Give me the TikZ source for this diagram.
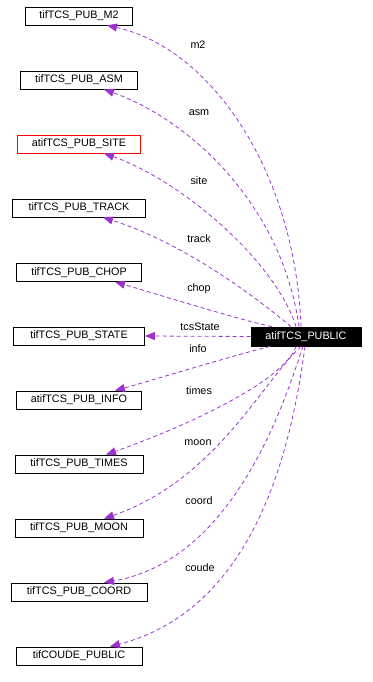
\documentclass[tikz,border=0pt]{standalone}
\usepackage{fontspec}
\setmainfont{Liberation Sans}
\usetikzlibrary{arrows.meta,calc}
\definecolor{orchid}{HTML}{9A32CD}

\begin{document}
\begin{tikzpicture}[x=1pt,y=-1pt,
        cls/.style={draw,line width=0.8pt,minimum height=18pt,inner sep=0pt,font=\fontsize{10.8}{12}\selectfont},
        lbl/.style={inner sep=0pt,font=\fontsize{10.8}{12}\selectfont},
        usage/.style={orchid,line width=0.8pt,dash pattern=on 4pt off 3pt,-{Triangle[length=10pt,width=8pt]}}]
        \useasboundingbox (0,0) rectangle (372,682);
        \node[cls,minimum width=107pt] (m2) at (79,16) {tifTCS\_PUB\_M2};
        \node[cls,minimum width=117pt] (asm) at (79,80) {tifTCS\_PUB\_ASM};
        \node[cls,draw=red,minimum width=123pt] (site) at (79,144) {atifTCS\_PUB\_SITE};
        \node[cls,minimum width=133pt] (track) at (79,208) {tifTCS\_PUB\_TRACK};
        \node[cls,minimum width=125pt] (chop) at (79,272.5) {tifTCS\_PUB\_CHOP};
        \node[cls,minimum width=131pt] (state) at (79,336) {tifTCS\_PUB\_STATE};
        \node[cls,minimum width=125pt] (info) at (79,400) {atifTCS\_PUB\_INFO};
        \node[cls,minimum width=128pt] (times) at (79,464) {tifTCS\_PUB\_TIMES};
        \node[cls,minimum width=128pt] (moon) at (79,528) {tifTCS\_PUB\_MOON};
        \node[cls,minimum width=136pt] (coord) at (79,592) {tifTCS\_PUB\_COORD};
        \node[cls,minimum width=126pt] (coude) at (79,656) {tifCOUDE\_PUBLIC};
        \node[cls,fill=black,text=white,minimum width=110pt,minimum height=19pt] (pub) at (306,336.5) {atifTCS\_PUBLIC};
        \coordinate (s1) at ($(pub.north)+(-5,0)$);
        \coordinate (s2) at ($(pub.north)+(-7,0)$);
        \coordinate (s3) at ($(pub.north)+(-10,0)$);
        \coordinate (s4) at ($(pub.north)+(-15,0)$);
        \coordinate (s5) at ($(pub.north)+(-34,0)$);
        \coordinate (s7) at ($(pub.south)+(-36,0)$);
        \coordinate (s8) at ($(pub.south)+(-10,0)$);
        \coordinate (s9) at ($(pub.south)+(-5,0)$);
        \coordinate (s10) at ($(pub.south)+(-3,0)$);
        \coordinate (s11) at ($(pub.south)+(-1,0)$);
        \coordinate (e1) at ($(m2.south)+(28,0)$);
        \coordinate (e2) at ($(asm.south)+(25,0)$);
        \coordinate (e3) at ($(site.south)+(25,0)$);
        \coordinate (e4) at ($(track.south)+(24,0)$);
        \coordinate (e5) at ($(chop.south)+(36,0)$);
        \coordinate (e7) at ($(info.north)+(36,0)$);
        \coordinate (e8) at ($(times.north)+(27,0)$);
        \coordinate (e9) at ($(moon.north)+(25,0)$);
        \coordinate (e10) at ($(coord.north)+(25,0)$);
        \coordinate (e11) at ($(coude.north)+(31,0)$);
        \draw[usage] (s1) .. controls (295,170) and (210,48) .. (e1);
        \draw[usage] (s2) .. controls (282,205) and (190,120) .. (e2);
        \draw[usage] (s3) .. controls (275,260) and (180,180) .. (e3);
        \draw[usage] (s4) .. controls (265,305) and (190,245) .. (e4);
        \draw[usage] (s5) .. controls (240,320) and (160,295) .. (e5);
        \draw[usage] (pub.west) -- (state.east);
        \draw[usage] (s7) .. controls (235,355) and (160,378) .. (e7);
        \draw[usage] (s8) .. controls (285,380) and (190,425) .. (e8);
        \draw[usage] (s9) .. controls (260,385) and (215,480) .. (e9);
        \draw[usage] (s10) .. controls (285,400) and (235,560) .. (e10);
        \draw[usage] (s11) .. controls (290,460) and (250,610) .. (e11);
        \node[lbl] (lm2) at (198,45) {m2};
        \node[lbl] (lasm) at (199,113) {asm};
        \node[lbl] (lsite) at (199,181) {site};
        \node[lbl] (ltrack) at (199,239) {track};
        \node[lbl] (lchop) at (199,289) {chop};
        \node[lbl] (lstate) at (200,327) {tcsState};
        \node[lbl] (linfo) at (198,349) {info};
        \node[lbl] (ltimes) at (199,391) {times};
        \node[lbl] (lmoon) at (198,443) {moon};
        \node[lbl] (lcoord) at (199,501) {coord};
        \node[lbl] (lcoude) at (200,568) {coude};
\end{tikzpicture}
\end{document}
